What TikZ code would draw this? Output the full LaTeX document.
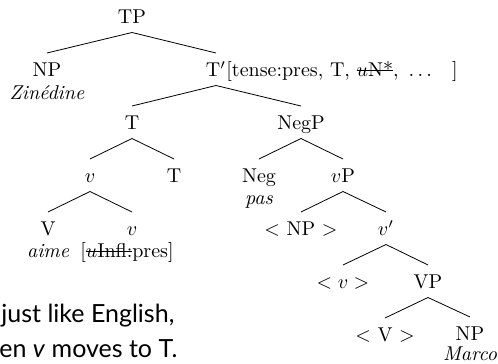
\documentclass[tikz,border=0pt]{standalone}
\usepackage{fontspec}
\newfontfamily\slidefont{Lato}
\usetikzlibrary{positioning}
\newsavebox{\strkbox}
\newcommand{\strk}[1]{\sbox{\strkbox}{#1}\rlap{\rule[2.6pt]{\wd\strkbox}{0.5pt}}\usebox{\strkbox}}
\tikzset{
  cat/.style={anchor=base, inner xsep=1pt, inner ysep=4pt, outer sep=0pt,
    text height=7.75pt, text depth=0.5pt},
  lex/.style={anchor=base, inner sep=0pt, font=\itshape},
  feat/.style={anchor=base west, inner sep=0pt},
  branch/.style={line width=0.4pt}
}
\begin{document}
\begin{tikzpicture}[x=0.5pt, y=-0.5pt]
	\useasboundingbox (0,0) rectangle (498,364);
	% Draw the category nodes, row by row
	\node[cat] (tp) at (132,23.5) {TP};
	\node[cat] (np1) at (47,76.5) {NP};
	\node[cat] (tbar) at (216,76.5) {T$'$};
	\node[feat] (tfeat) at ([xshift=-1pt]tbar.base east) {[tense:pres, T, \strk{$u$N*}, $\,\ldots$\hspace{10pt}]};
	\node[cat] (t1) at (132,129.5) {T};
	\node[cat] (negp) at (301,129.5) {NegP};
	\node[cat] (v1) at (90,182.5) {$v$};
	\node[cat] (t2) at (174,182.5) {T};
	\node[cat] (neg) at (259,182.5) {Neg};
	\node[cat] (vp) at (343,182.5) {$v$P};
	\node[cat] (V) at (48,235.5) {V};
	\node[cat] (v2) at (132,235.5) {$v$};
	\node[cat] (npt) at (301,235.5) {$<$ NP $>$};
	\node[cat] (vbar) at (386,235.5) {$v'$};
	\node[cat] (vt) at (343,288.5) {$<v>$};
	\node[cat] (VP) at (428,288.5) {VP};
	\node[cat] (Vt) at (385,341.5) {$<$ V $>$};
	\node[cat] (np2) at (470,340.5) {NP};
	% Words and features under the heads
	\node[lex] (zin) at ([yshift=-11.25pt]np1.base) {Zin\'edine};
	\node[lex] (pas) at ([yshift=-11pt]neg.base) {pas};
	\node[lex] (aime) at ([yshift=-10.75pt]V.base) {aime};
	\node[anchor=base, inner sep=0pt] (infl) at (127,257) {[\strk{$u$Infl:}pres]};
	\node[lex] (marco) at ([yshift=-10pt]np2.base) {Marco};
	% Draw the branches
	\draw[branch] (np1.north) -- (tp.south) -- (tbar.north);
	\draw[branch] (t1.north) -- (tbar.south) -- (negp.north);
	\draw[branch] (v1.north) -- (t1.south) -- (t2.north);
	\draw[branch] (V.north) -- (v1.south) -- (v2.north);
	\draw[branch] (neg.north) -- (negp.south) -- (vp.north);
	\draw[branch] (npt.north) -- (vp.south) -- (vbar.north);
	\draw[branch] (vt.north) -- (vbar.south) -- (VP.north);
	\draw[branch] (Vt.north) -- (VP.south) -- (np2.north);
	% Slide text, cut at the left edge
	\node[anchor=base west, inner sep=0pt, font=\slidefont\fontsize{12.5}{15}\selectfont] (txt1) at (1,322) {just like English,};
	\node[anchor=base west, inner sep=0pt, font=\slidefont\fontsize{12.5}{15}\selectfont] (txt2) at (-1,357) {en \textit{v} moves to T.};
\end{tikzpicture}
\end{document}
